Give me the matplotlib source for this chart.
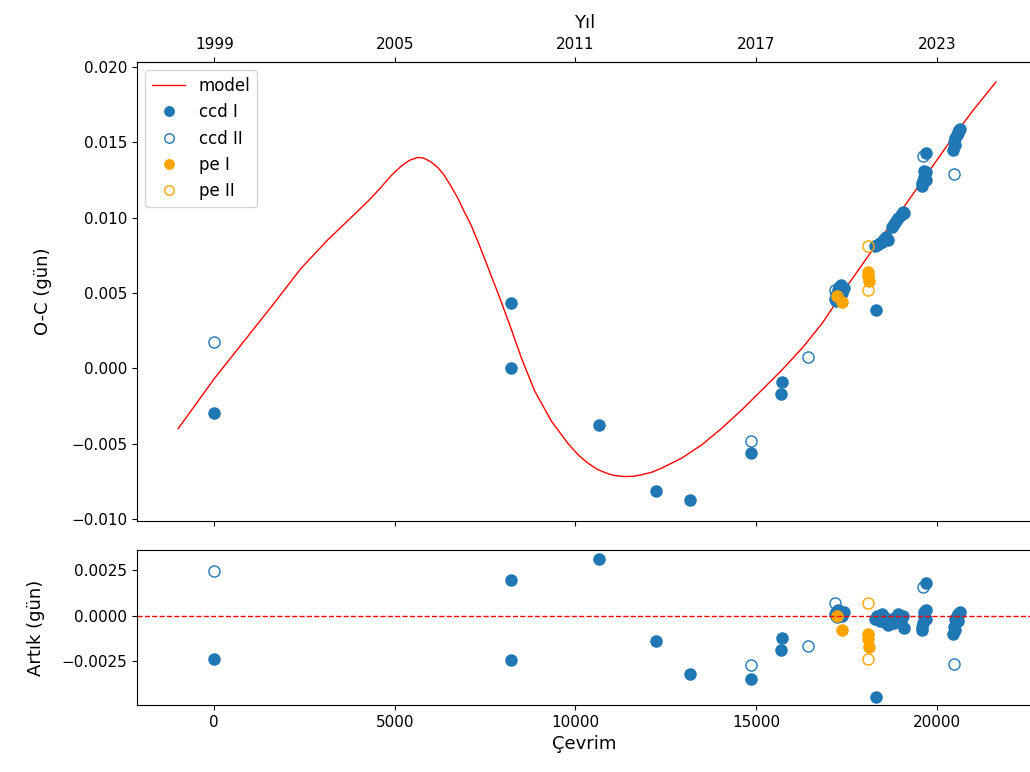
import numpy as np
import matplotlib
matplotlib.use('Agg')
import matplotlib.pyplot as plt

# model curve (cycle, O-C)
model_E = [-1000, 0, 722, 1648, 2389, 3130, 3870, 4300, 4611, 4900, 5167,
           5400, 5630, 5800, 6000, 6200, 6370, 6550, 6741, 6900, 7111, 7300,
           7481, 7852, 8222, 8500, 8870, 9333, 9796, 10100, 10352, 10600,
           10907, 11100, 11370, 11600, 11833, 12100, 12389, 12944, 13500,
           14056, 14611, 15167, 15722, 16278, 16833, 17111, 17500, 18000,
           18500, 19000, 19500, 20000, 20500, 21000, 21639]
model_oc = [-0.0040, -0.00068, 0.0015, 0.0043, 0.0066, 0.0085, 0.0102, 0.0112,
            0.0120, 0.0128, 0.0134, 0.0138, 0.0140, 0.01395, 0.0137, 0.0133,
            0.0128, 0.0121, 0.0113, 0.0105, 0.0095, 0.0084, 0.0073, 0.0050,
            0.0026, 0.0007, -0.0015, -0.0035, -0.0050, -0.0058, -0.0063,
            -0.0067, -0.00700, -0.00712, -0.00718, -0.00716, -0.00706, -0.0069,
            -0.00662, -0.00595, -0.00507, -0.00396, -0.00274, -0.00142,
            -0.00009, 0.00135, 0.0030, 0.0040, 0.0054, 0.0071, 0.0088,
            0.0104, 0.0121, 0.0138, 0.0155, 0.0171, 0.0190]

# ccd I (filled)
ccd1_E = [0, 8223, 8223, 10660, 12234, 13160, 14850, 15720, 15700,
          17180, 17220, 17260, 17300, 17340, 17250, 17200, 17380, 17420,
          18315,
          18300, 18360, 18420, 18480, 18540, 18600, 18650,
          18760, 18820, 18880, 18940, 19000, 19060, 19100,
          19580, 19620, 19660, 19700, 19640, 19690, 19600, 19690,
          20440, 20480, 20520, 20560, 20600, 20640, 20500, 20580, 20620]
ccd1_oc = [-0.00296, 0.00434, 0.0000, -0.00373, -0.00816, -0.00873, -0.0056,
           -0.0009, -0.0017,
           0.0046, 0.0049, 0.0052, 0.0054, 0.0055, 0.0047, 0.0045, 0.0050, 0.0053,
           0.00385,
           0.0081, 0.0082, 0.0083, 0.0084, 0.0086, 0.0087, 0.0085,
           0.0094, 0.0096, 0.0098, 0.0100, 0.0102, 0.0104, 0.0103,
           0.0121, 0.0124, 0.0127, 0.0130, 0.0131, 0.0125, 0.0123, 0.0143,
           0.0145, 0.0150, 0.0153, 0.0155, 0.0157, 0.0159, 0.0148, 0.0156, 0.0158]
ccd1_res = [-0.00236, 0.00193, -0.00245, 0.0031, -0.0014, -0.0032, -0.0035,
            -0.00125, -0.0019,
            0.0001, 0.0002, 0.0003, 0.0002, 0.0001, -0.0001, 0.0000, 0.0000, 0.0002,
            -0.00445,
            -0.0002, 0.0000, -0.0003, 0.0001, -0.0001, -0.0004, -0.0005,
            -0.0002, -0.0004, -0.0001, 0.0001, -0.0003, 0.0000, -0.0007,
            -0.0008, -0.0004, 0.0000, 0.0003, 0.0002, -0.0002, -0.0006, 0.0018,
            -0.0010, -0.0006, -0.0002, 0.0000, 0.0001, 0.0002, -0.0008, -0.0003, 0.0001]

# ccd II (open)
ccd2_E = [0, 14850, 16444, 17180, 19630, 20490]
ccd2_oc = [0.00175, -0.0048, 0.00075, 0.0052, 0.0141, 0.0129]
ccd2_res = [0.00247, -0.0027, -0.00167, 0.0007, 0.00156, -0.00265]

# pe I (filled)
pe1_E = [17230, 17370, 18110, 18110, 18120]
pe1_oc = [0.0048, 0.0044, 0.0064, 0.0061, 0.0058]
pe1_res = [0.0000, -0.0008, -0.0010, -0.0013, -0.0017]

# pe II (open)
pe2_E = [18100, 18110]
pe2_oc = [0.0081, 0.0052]
pe2_res = [0.00068, -0.0024]

blue = '#1f77b4'
orange = 'orange'
ms = 8
plt.rcParams['xtick.labelsize'] = 11
plt.rcParams['ytick.labelsize'] = 11

fig = plt.figure(figsize=(10.3, 7.72), dpi=100)
ax1 = fig.add_axes([0.133, 0.3251, 0.869, 0.5946])
ax2 = fig.add_axes([0.133, 0.0868, 0.869, 0.2008], sharex=ax1)

ax1.plot(model_E, model_oc, color='red', lw=1, label='model')
ax1.plot(ccd1_E, ccd1_oc, 'o', color=blue, ms=ms, label='ccd I')
ax1.plot(ccd2_E, ccd2_oc, 'o', mfc='none', mec=blue, ms=ms, label='ccd II')
ax1.plot(pe1_E, pe1_oc, 'o', color=orange, ms=ms, label='pe I')
ax1.plot(pe2_E, pe2_oc, 'o', mfc='none', mec=orange, ms=ms, label='pe II')
ax1.set_ylabel('O-C (gün)', fontsize=13, labelpad=14)
ax1.set_ylim(-0.01013, 0.02033)
ax1.set_yticks([-0.010, -0.005, 0.000, 0.005, 0.010, 0.015, 0.020])
ax1.tick_params(labelbottom=False)
ax1.legend(loc='upper left', fontsize=12, markerscale=0.85)

sec = ax1.secondary_xaxis('top', functions=(lambda e: 1999 + e * 6 / 5000,
                                             lambda y: (y - 1999) * 5000 / 6))
sec.set_xticks([1999, 2005, 2011, 2017, 2023])
sec.set_xlabel('Yıl', fontsize=13, labelpad=7)

ax2.plot(ccd1_E, ccd1_res, 'o', color=blue, ms=ms)
ax2.plot(ccd2_E, ccd2_res, 'o', mfc='none', mec=blue, ms=ms)
ax2.plot(pe1_E, pe1_res, 'o', color=orange, ms=ms)
ax2.plot(pe2_E, pe2_res, 'o', mfc='none', mec=orange, ms=ms)
ax2.axhline(0, color='red', ls='--', lw=1)
ax2.set_ylim(-0.0049, 0.0036)
ax2.set_yticks([-0.0025, 0.0, 0.0025])
ax2.set_ylabel('Artık (gün)', fontsize=13, labelpad=12)
ax2.set_xlabel('Çevrim', fontsize=13)
ax2.set_xlim(-2140, 22640)
ax2.set_xticks([0, 5000, 10000, 15000, 20000])

fig.savefig('out.png', dpi=100)
